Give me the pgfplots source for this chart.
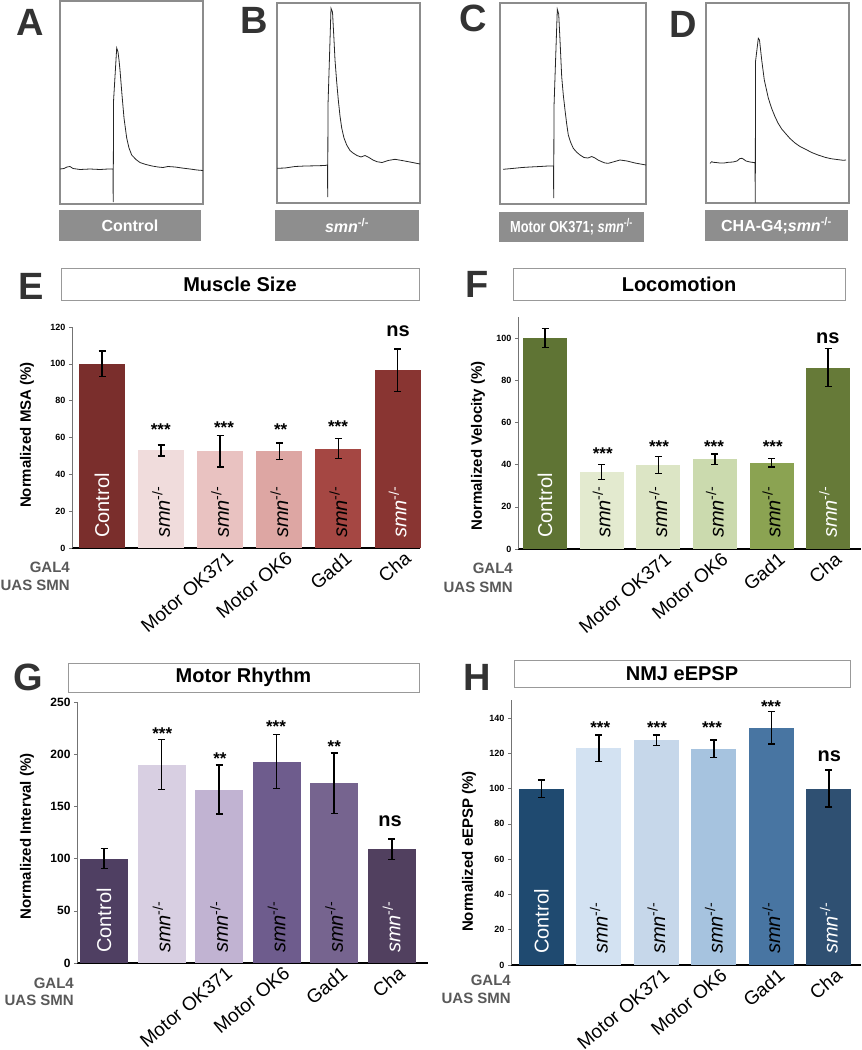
\documentclass[border=0pt]{standalone}
\usepackage{pgfplots}
\pgfplotsset{compat=1.18}
\usepackage{fontspec}
\setmainfont{Liberation Sans}

% colours
\definecolor{boxgray}{HTML}{8E8E8E}
\definecolor{eA}{HTML}{7A2E2C}\definecolor{eB}{HTML}{F0DCDC}\definecolor{eC}{HTML}{E9C2C1}
\definecolor{eD}{HTML}{DDA6A3}\definecolor{eE}{HTML}{A54743}\definecolor{eF}{HTML}{893532}
\definecolor{fA}{HTML}{5F7434}\definecolor{fB}{HTML}{E3EACF}\definecolor{fC}{HTML}{DCE5C5}
\definecolor{fD}{HTML}{CBDAAE}\definecolor{fE}{HTML}{8BA352}\definecolor{fF}{HTML}{667A38}
\definecolor{gA}{HTML}{4F3F62}\definecolor{gB}{HTML}{D8CFE2}\definecolor{gC}{HTML}{C1B3D2}
\definecolor{gD}{HTML}{6E5C8D}\definecolor{gE}{HTML}{76648F}\definecolor{gF}{HTML}{51405F}
\definecolor{hA}{HTML}{1F4A70}\definecolor{hB}{HTML}{D3E2F2}\definecolor{hC}{HTML}{C6D7EA}
\definecolor{hD}{HTML}{A6C3DF}\definecolor{hE}{HTML}{4875A2}\definecolor{hF}{HTML}{2F5072}

\newcommand{\fs}[1]{\fontsize{#1}{#1}\selectfont}
\newcommand{\smn}{\textit{smn}\textsuperscript{-/-}}

\pgfplotsset{
  trace/.style={scale only axis, y dir=reverse, xtick=\empty, ytick=\empty,
    axis line style={black!45, line width=1.2pt}},
  barpanel/.style={
    scale only axis, clip=false,
    axis x line*=bottom, axis y line*=left,
    x axis line style={-, line width=1.6pt, black},
    y axis line style={-, line width=0.6pt, black!55},
    xtick={2,3,4,5},
    xticklabels={Motor OK371, Motor OK6, Gad1, Cha},
    x tick style={draw=none},
    x tick label style={rotate=40, anchor=north east, font=\fs{19}, inner sep=0pt, xshift=5pt, yshift=-3pt},
    y tick style={black!55, line width=0.6pt},
    tick align=outside, major tick length=3pt,
    y tick label style={font=\bfseries\fs{9}},
    /pgf/number format/assume math mode=true,
  },
  sbar/.style={ybar, bar shift=0pt, draw=none, fill=#1,
    error bars/y dir=both, error bars/y explicit,
    error bars/error bar style={draw=black, line width=1.5pt},
    error bars/error mark options={draw=black, rotate=90, mark size=3.5pt, line width=1.5pt}},
}
\tikzset{
  inbar/.style={rotate=90, anchor=west, inner sep=0pt, font=\fs{20}},
  star/.style={font=\bfseries\fs{17}, yshift=-4pt},
  ns/.style={font=\bfseries\fs{20}},
  letter/.style={font=\bfseries\fs{38}, text=black!80},
  title/.style={draw=black!40, line width=1pt, fill=white, inner sep=0pt, font=\bfseries\fs{20}},
  ylab/.style={rotate=90, font=\bfseries\fs{15}},
  side/.style={anchor=east, font=\bfseries\fs{15}, text=black!65, inner sep=0pt},
  gbox/.style={fill=boxgray, inner sep=0pt, text=white, font=\bfseries\fs{16}},
}

\begin{document}
\begin{tikzpicture}
\path[use as bounding box] (0,0) rectangle (862pt,-1050pt);

% ---------- traces A-D ----------
\begin{axis}[trace, at={(60pt,-204pt)}, anchor=south west, width=143pt, height=203pt,
  xmin=60, xmax=203, ymin=1, ymax=204]
\addplot[black!85, line width=0.8pt] coordinates {
(60,169) (64,168.5) (67,167) (70,166.5) (73,168.5) (80,169.5) (90,169) (100,169.5) (108,169) (113,169)
(113.2,202) (113.6,100) (116.7,48) (118,52) (119,60) (120,70) (122,95) (124,118) (126.7,138) (129,148)
(131.7,155) (136,159.5) (140,162.5) (146,164.5) (152,166) (158,167) (163,167.5) (168,166.5) (175,167)
(182,168) (190,169) (197,170) (203,170.5)};
\end{axis}

\begin{axis}[trace, at={(277pt,-203pt)}, anchor=south west, width=143pt, height=200pt,
  xmin=277, xmax=420, ymin=3, ymax=203]
\addplot[black!85, line width=0.8pt] coordinates {
(277,168.3) (285,168) (295,166.5) (305,166) (315,165.8) (325,165.5) (327.5,165) (327.7,197) (328,105)
(331,8.3) (332.5,12) (334,40) (335,60) (336.7,82) (338.3,100) (340,116) (341.7,128) (344,138) (346.7,145)
(350,150.5) (353,153) (357,155.5) (361,157) (365,155.5) (369,157.5) (373,160) (377,161.7) (382,162.5)
(388,160.5) (395,159.3) (402,160.5) (410,162) (420,164)};
\end{axis}

\begin{axis}[trace, at={(500pt,-204pt)}, anchor=south west, width=146pt, height=201pt,
  xmin=500, xmax=646, ymin=3, ymax=204]
\addplot[black!85, line width=0.8pt] coordinates {
(503,169.3) (512,168.5) (522,167.5) (530,167) (540,166.5) (548,166) (553.5,166) (553.7,198) (554,106.7)
(557.3,9.3) (558.7,14) (560,40) (561.7,76.7) (563.3,95) (565,110) (566.7,124) (568.3,135) (570.5,142)
(573.3,148.3) (576.5,152) (580,155) (584,157.5) (588,158) (591.7,156.5) (595,158) (598,160) (601.7,161.7)
(605,163) (608.3,163.3) (613,162) (620,160) (627,161) (635,163) (646,165)};
\end{axis}

\begin{axis}[trace, at={(706pt,-203pt)}, anchor=south west, width=143pt, height=200pt,
  xmin=706, xmax=849, ymin=3, ymax=203]
\addplot[black!85, line width=0.8pt] coordinates {
(710,163.3) (711.7,161.7) (713.3,162.3) (716,162.5) (720,163) (724,163) (728.3,162.3) (733,162) (737,161)
(740,158.5) (742,158.3) (744,159.5) (746,161) (750,162) (755,162.7) (755.3,202.7) (755.5,61.7) (758.3,38.3)
(759.5,40) (761.7,60) (764.3,80) (768.3,98) (771.5,108) (775,116.7) (778,123) (781.7,129) (786,134)
(790,138.5) (795,143) (800,146.5) (806,149.5) (811.7,152.5) (818,155) (825,157.3) (831,158.7) (837,159.5)
(843.3,160.3) (846,160)};
\end{axis}

\node[letter] at (30pt,-22pt) {A};
\node[letter] at (254pt,-20pt) {B};
\node[letter] at (473pt,-18pt) {C};
\node[letter] at (683pt,-24pt) {D};
\node[gbox, minimum width=142pt, minimum height=31pt] at (130pt,-225.5pt) {Control};
\node[gbox, minimum width=144pt, minimum height=31pt] at (347pt,-225.5pt) {\textit{smn}\textsuperscript{-/-}};
\node[gbox, minimum width=145pt, minimum height=30pt] at (571.5pt,-227pt) {\scalebox{0.8}[1]{Motor OK371; \textit{smn}\textsuperscript{-/-}}};
\node[gbox, minimum width=143pt, minimum height=31pt] at (776.5pt,-225.5pt) {CHA-G4;\textit{smn}\textsuperscript{-/-}};

% ---------- E: muscle size ----------
\node[letter] at (31pt,-286pt) {E};
\node[title, minimum width=358pt, minimum height=32pt] at (240pt,-284pt) {Muscle Size};
\node[ylab] at (27pt,-435pt) {Normalized MSA (\%)};
\node[side] at (70pt,-567pt) {GAL4};
\node[side] at (70pt,-585pt) {UAS SMN};
\begin{axis}[barpanel, at={(72pt,-548pt)}, anchor=south west, width=348pt, height=221pt,
  xmin=-0.508, xmax=5.38, ymin=0, ymax=120, ytick={0,20,...,120}]
\addplot[bar width=46pt, sbar=eA] coordinates {(0,100) +- (0,7)};
\addplot[bar width=46pt, sbar=eB] coordinates {(1,53) +- (0,3)};
\addplot[bar width=46pt, sbar=eC] coordinates {(2,52.5) +- (0,8.5)};
\addplot[bar width=46pt, sbar=eD] coordinates {(3,52.5) +- (0,4.5)};
\addplot[bar width=46pt, sbar=eE] coordinates {(4,54) +- (0,5.5)};
\addplot[bar width=46pt, sbar=eF] coordinates {(5,96.5) +- (0,11.5)};
\node[inbar, white] at ([yshift=10pt]axis cs:0,0) {Control};
\pgfplotsinvokeforeach{1,...,4}{\node[inbar] at ([yshift=10pt]axis cs:#1,0) {\smn};}
\node[inbar, white] at ([yshift=10pt]axis cs:5,0) {\smn};
\end{axis}
\node[star] at (160.7pt,-425.7pt) {***};
\node[star] at (224pt,-424pt) {***};
\node[star] at (280.7pt,-425.7pt) {**};
\node[star] at (338pt,-423pt) {***};
\node[ns] at (398pt,-331pt) {ns};

% ---------- F: locomotion ----------
\node[letter] at (477pt,-284pt) {F};
\node[title, minimum width=332pt, minimum height=32pt] at (679pt,-284pt) {Locomotion};
\node[ylab] at (478pt,-446pt) {Normalized Velocity (\%)};
\node[side] at (513pt,-568pt) {GAL4};
\node[side] at (513pt,-587pt) {UAS SMN};
\begin{axis}[barpanel, at={(518pt,-549pt)}, anchor=south west, width=343pt, height=232pt,
  xmin=-0.477, xmax=5.58, ymin=0, ymax=110, ytick={0,20,...,100}]
\addplot[bar width=44pt, sbar=fA] coordinates {(0,100) +- (0,4.5)};
\addplot[bar width=44pt, sbar=fB] coordinates {(1,36.5) +- (0,3.5)};
\addplot[bar width=44pt, sbar=fC] coordinates {(2,39.8) +- (0,4)};
\addplot[bar width=44pt, sbar=fD] coordinates {(3,42.6) +- (0,2.5)};
\addplot[bar width=44pt, sbar=fE] coordinates {(4,40.8) +- (0,2)};
\addplot[bar width=44pt, sbar=fF] coordinates {(5,86) +- (0,9)};
\node[inbar, white] at ([yshift=11pt]axis cs:0,0) {Control};
\pgfplotsinvokeforeach{1,...,4}{\node[inbar] at ([yshift=11pt]axis cs:#1,0) {\smn};}
\node[inbar, white] at ([yshift=11pt]axis cs:5,0) {\smn};
\end{axis}
\node[star] at (602.7pt,-450pt) {***};
\node[star] at (659pt,-443pt) {***};
\node[star] at (714pt,-443pt) {***};
\node[star] at (772.7pt,-443pt) {***};
\node[ns] at (827.7pt,-338.3pt) {ns};

% ---------- G: motor rhythm ----------
\node[letter] at (28pt,-677pt) {G};
\node[title, minimum width=351pt, minimum height=29pt] at (243.5pt,-677.5pt) {Motor Rhythm};
\node[ylab] at (27pt,-836.5pt) {Normalized Interval (\%)};
\node[side] at (74pt,-983pt) {GAL4};
\node[side] at (74pt,-1000pt) {UAS SMN};
\begin{axis}[barpanel, at={(77pt,-963pt)}, anchor=south west, width=351pt, height=261pt,
  xmin=-0.47, xmax=5.63, ymin=0, ymax=250, ytick={0,50,...,250},
  y tick label style={font=\bfseries\fs{12}}]
\addplot[bar width=48pt, sbar=gA] coordinates {(0,100) +- (0,9.5)};
\addplot[bar width=48pt, sbar=gB] coordinates {(1,190) +- (0,24)};
\addplot[bar width=48pt, sbar=gC] coordinates {(2,166) +- (0,23.5)};
\addplot[bar width=48pt, sbar=gD] coordinates {(3,193) +- (0,26)};
\addplot[bar width=48pt, sbar=gE] coordinates {(4,172) +- (0,29)};
\addplot[bar width=48pt, sbar=gF] coordinates {(5,109) +- (0,10)};
\node[inbar, white] at ([yshift=10pt]axis cs:0,0) {Control};
\pgfplotsinvokeforeach{1,...,4}{\node[inbar] at ([yshift=10pt]axis cs:#1,0) {\smn};}
\node[inbar, white] at ([yshift=10pt]axis cs:5,0) {\smn};
\end{axis}
\node[star] at (162.3pt,-730pt) {***};
\node[star] at (220pt,-754.3pt) {**};
\node[star] at (276pt,-722.7pt) {***};
\node[star] at (334.3pt,-742.7pt) {**};
\node[ns] at (390pt,-821.7pt) {ns};

% ---------- H: NMJ eEPSP ----------
\node[letter] at (477pt,-677pt) {H};
\node[title, minimum width=336pt, minimum height=27pt] at (682pt,-673.5pt) {NMJ eEPSP};
\node[ylab] at (469pt,-851.5pt) {Normalized eEPSP (\%)};
\node[side] at (511pt,-980pt) {GAL4};
\node[side] at (511pt,-998pt) {UAS SMN};
\begin{axis}[barpanel, at={(511pt,-965pt)}, anchor=south west, width=350pt, height=264.6pt,
  xmin=-0.53, xmax=5.56, ymin=0, ymax=150, ytick={0,20,...,140}]
\addplot[bar width=45pt, sbar=hA] coordinates {(0,100) +- (0,5)};
\addplot[bar width=45pt, sbar=hB] coordinates {(1,123) +- (0,7.5)};
\addplot[bar width=45pt, sbar=hC] coordinates {(2,127.5) +- (0,3)};
\addplot[bar width=45pt, sbar=hD] coordinates {(3,122.5) +- (0,5)};
\addplot[bar width=45pt, sbar=hE] coordinates {(4,134.5) +- (0,9.3)};
\addplot[bar width=45pt, sbar=hF] coordinates {(5,100) +- (0,10.5)};
\node[inbar, white] at ([yshift=11pt]axis cs:0,0) {Control};
\pgfplotsinvokeforeach{1,...,4}{\node[inbar] at ([yshift=11pt]axis cs:#1,0) {\smn};}
\node[inbar, white] at ([yshift=11pt]axis cs:5,0) {\smn};
\end{axis}
\node[star] at (600.3pt,-723.3pt) {***};
\node[star] at (657pt,-723.3pt) {***};
\node[star] at (712pt,-723.3pt) {***};
\node[star] at (771pt,-702.7pt) {***};
\node[ns] at (829.3pt,-756pt) {ns};
\end{tikzpicture}
\end{document}
